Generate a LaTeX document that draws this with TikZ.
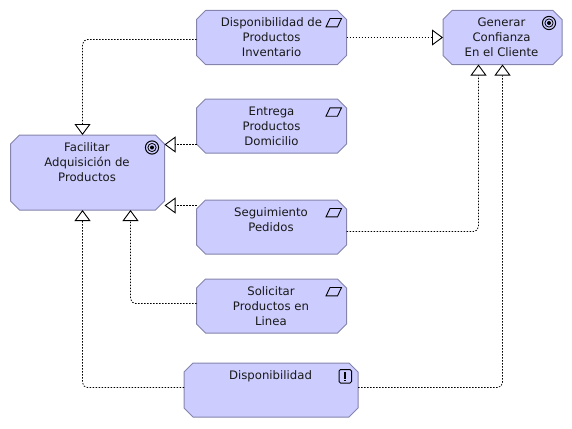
\documentclass[tikz,border=0pt]{standalone}
\usepackage{fontspec}
\setmainfont{DejaVu Sans}
\usetikzlibrary{arrows.meta,calc}
\definecolor{boxfill}{HTML}{CCCCFF}
\definecolor{boxline}{HTML}{8484AC}
\tikzset{
  elem/.style={rectangle,draw=none,inner sep=0pt,outer sep=0pt,anchor=center},
  octa/.style={draw=boxline,fill=boxfill,line width=1pt,line join=round},
  lbl/.style={align=center,anchor=north,inner sep=0pt,outer sep=0pt,text=black!90,
    font=\fontsize{11.7}{15}\selectfont},
  rel/.style={draw=black,line width=0.75pt,dash pattern=on 1.5pt off 1.5pt,rounded corners=5pt,
    -{Triangle[open,fill=white,length=11pt,width=16pt,line width=0.9pt]}},
  dataicon/.style={draw=black,line width=0.9pt,fill=none},
}
\newcommand{\octabox}[1]{\draw[octa] ($(#1.north west)+(9,0)$) -- ($(#1.north east)+(-9,0)$) -- ($(#1.north east)+(0,9)$) -- ($(#1.south east)+(0,-9)$) -- ($(#1.south east)+(-9,0)$) -- ($(#1.south west)+(9,0)$) -- ($(#1.south west)+(0,-9)$) -- ($(#1.north west)+(0,9)$) -- cycle;}
\newcommand{\dataglyph}[1]{\draw[dataicon] ($(#1)+(-7.5,4.2)$) -- ($(#1)+(-3.5,-4.2)$) -- ($(#1)+(8,-4.2)$) -- ($(#1)+(4,4.2)$) -- cycle;}
\newcommand{\goalglyph}[1]{%
  \draw[black,line width=1pt] (#1) circle[radius=6.6];
  \draw[black,line width=0.8pt] (#1) circle[radius=4.1];
  \fill[black] (#1) circle[radius=2];}
\begin{document}
\begin{tikzpicture}[x=1pt,y=-1pt]
\useasboundingbox (0,0) rectangle (572,428);
\node[elem,minimum width=150pt,minimum height=54pt] (inv) at (271.5,37.5) {};
\node[elem,minimum width=150pt,minimum height=54pt] (ent) at (271.5,126) {};
\node[elem,minimum width=150pt,minimum height=54pt] (seg) at (271.5,227) {};
\node[elem,minimum width=150pt,minimum height=54pt] (sol) at (271.5,306) {};
\node[elem,minimum width=174pt,minimum height=54pt] (dis) at (271,390) {};
\node[elem,minimum width=154pt,minimum height=75pt] (fac) at (87.5,172.5) {};
\node[elem,minimum width=119pt,minimum height=54pt] (gen) at (502.5,37.5) {};
\octabox{inv}\octabox{ent}\octabox{seg}\octabox{sol}\octabox{dis}\octabox{fac}\octabox{gen}

\node[lbl] (tinv) at (271.5,18) {Disponibilidad de\\Productos\\Inventario};
\node[lbl] (tent) at (271.5,107) {Entrega\\Productos\\Domicilio};
\node[lbl] (tseg) at (271,208) {Seguimiento\\Pedidos};
\node[lbl] (tsol) at (271,287) {Solicitar\\Productos en\\Linea};
\node[lbl] (tdis) at (270.5,371) {Disponibilidad};
\node[lbl] (tfac) at (87,143) {Facilitar\\Adquisición de\\Productos};
\node[lbl] (tgen) at (501.5,18) {Generar\\Confianza\\En el Cliente};

\coordinate (a1) at (333.5,22.7);
\coordinate (a2) at (333.5,112);
\coordinate (a3) at (333.5,212.7);
\coordinate (a4) at (333.5,291.7);
\dataglyph{a1}\dataglyph{a2}\dataglyph{a3}\dataglyph{a4}
\coordinate (g1) at (152,147.5);
\coordinate (g2) at (549,23);
\goalglyph{g1}\goalglyph{g2}
\draw[black,line width=1pt,rounded corners=1.5pt] (339,369.5) rectangle (351.5,383);
\fill[black] (344.2,371.5) rectangle (346.2,378.5);
\fill[black] (344.2,379.6) rectangle (346.2,381.4);

\draw[rel] (196.5,39.5) -- (82.5,39.5) -- (82.5,135);
\draw[rel] (inv.east |- 0,37.5) -- (gen.west |- 0,37.5);
\draw[rel] (ent.west |- 0,144.5) -- (fac.east |- 0,144.5);
\draw[rel] (seg.west |- 0,205.5) -- (fac.east |- 0,205.5);
\draw[rel] (seg.east |- 0,231.5) -- (478.5,231.5) -- (gen.south -| 478.5,0);
\draw[rel] (sol.west |- 0,303.5) -- (130.5,303.5) -- (fac.south -| 130.5,0);
\draw[rel] (dis.west |- 0,387.5) -- (82.5,387.5) -- (fac.south -| 82.5,0);
\draw[rel] (dis.east |- 0,387.5) -- (502.5,387.5) -- (gen.south -| 502.5,0);
\end{tikzpicture}
\end{document}
